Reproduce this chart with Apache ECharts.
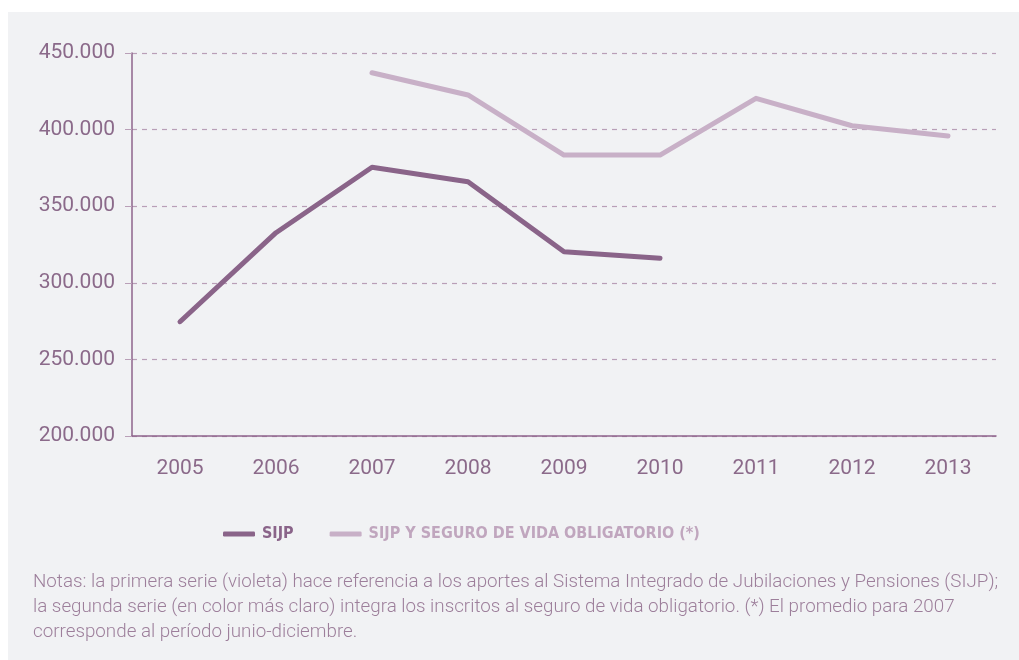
<!DOCTYPE html>
<html>
<head>
<meta charset="utf-8">
<script src="https://cdn.jsdelivr.net/npm/echarts@6/dist/echarts.min.js"></script>
<style>
  html, body { margin: 0; padding: 0; background: #fff; }
  #chart { width: 1019px; height: 660px; }
</style>
</head>
<body>
<div id="chart"></div>
<script>
var years = ['2005', '2006', '2007', '2008', '2009', '2010', '2011', '2012', '2013'];
// aportes SIJP (termina en 2010)
var sijp = [274600, 332700, 375400, 366000, 320300, 316000, '-', '-', '-'];
// SIJP + seguro de vida obligatorio (empieza en 2007)
var sijpSeguro = ['-', '-', 437100, 422600, 383400, 383400, 420400, 402500, 395800];
var yTicks = [200000, 250000, 300000, 350000, 400000, 450000];
var seriesNames = ['SIJP', 'SIJP Y SEGURO DE VIDA OBLIGATORIO (*)'];
var notas = [
  'Notas: la primera serie (violeta) hace referencia a los aportes al Sistema Integrado de Jubilaciones y Pensiones (SIJP);',
  'la segunda serie (en color más claro) integra los inscritos al seguro de vida obligatorio. (*) El promedio para 2007',
  'corresponde al período junio-diciembre.'
];

var dark = '#8a6489';
var light = '#c8b0c7';
var axisColor = '#8e648c';
var gridColor = '#b99fb7';
var labelColor = '#8b6a8a';

function formatMiles(v) {
  // 450000 -> 450.000
  return String(v).replace(/\B(?=(\d{3})+(?!\d))/g, '.');
}

var chart = echarts.init(document.getElementById('chart'));

var option = {
  backgroundColor: '#ffffff',
  animation: false,
  textStyle: { fontFamily: 'Roboto' },
  graphic: [
    {
      type: 'rect',
      z: -10,
      shape: { x: 8, y: 12, width: 1011, height: 648 },
      style: { fill: '#f1f2f4' }
    },
    {
      type: 'text',
      left: 33,
      top: 570,
      style: {
        text: notas.join('\n'),
        fill: '#9d7f9b',
        font: '300 18.8px Roboto',
        lineHeight: 25
      }
    }
  ],
  grid: { left: 132, right: 23, top: 53, bottom: 224 },
  legend: {
    left: 218,
    top: 521,
    itemWidth: 32,
    itemHeight: 5,
    itemGap: 36,
    icon: 'roundRect',
    data: [
      { name: seriesNames[0], textStyle: { color: dark } },
      { name: seriesNames[1], textStyle: { color: '#c0a6be' } }
    ],
    textStyle: {
      fontFamily: '"DejaVu Sans Condensed", Roboto',
      fontWeight: 'bold',
      fontSize: 16,
      padding: [0, 0, 0, 2]
    }
  },
  xAxis: {
    type: 'category',
    data: years,
    boundaryGap: true,
    axisLine: { lineStyle: { color: axisColor, width: 1.5 } },
    axisTick: { length: 7, lineStyle: { color: axisColor, width: 1.5 } },
    axisLabel: { color: labelColor, fontSize: 21, margin: 22 }
  },
  yAxis: {
    type: 'value',
    min: yTicks[0],
    max: yTicks[yTicks.length - 1],
    interval: 50000,
    axisLine: { show: true, lineStyle: { color: axisColor, width: 1.5 } },
    axisTick: { show: true, length: 7, lineStyle: { color: gridColor } },
    axisLabel: { color: labelColor, fontSize: 21, margin: 17, formatter: formatMiles },
    splitLine: { lineStyle: { color: gridColor, type: [5, 5], width: 1.2 } }
  },
  series: [
    {
      name: seriesNames[0],
      type: 'line',
      data: sijp,
      symbol: 'none',
      color: dark,
      lineStyle: { width: 5, cap: 'round', join: 'round' }
    },
    {
      name: seriesNames[1],
      type: 'line',
      data: sijpSeguro,
      symbol: 'none',
      color: light,
      lineStyle: { width: 5, cap: 'round', join: 'round' }
    }
  ]
};

chart.setOption(option);
</script>
</body>
</html>
